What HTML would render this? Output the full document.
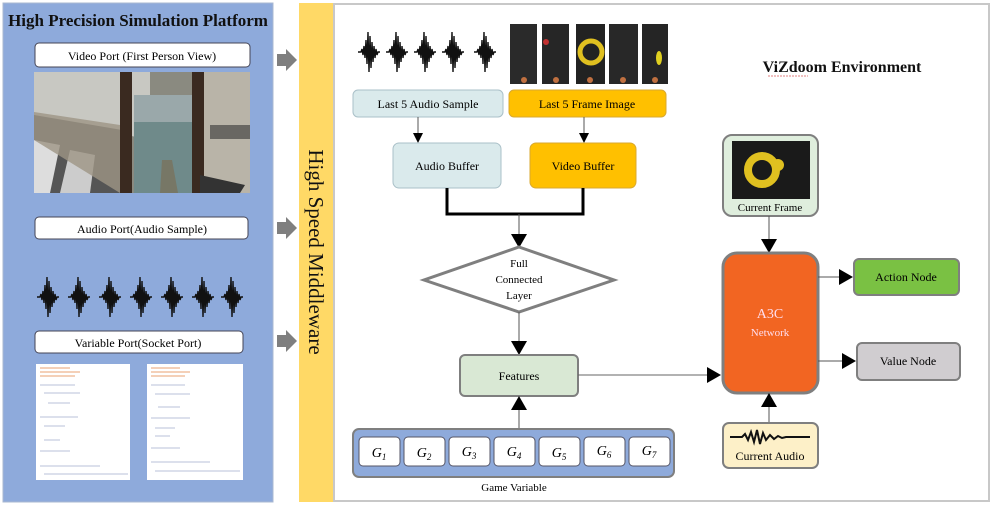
<!DOCTYPE html>
<html><head><meta charset="utf-8"><style>
html,body{margin:0;padding:0;background:#fff;}
svg{display:block;}
text{font-family:"Liberation Serif",serif;}
</style></head><body>
<svg width="992" height="507" viewBox="0 0 992 507" xmlns="http://www.w3.org/2000/svg">
<defs>
<marker id="ah" markerWidth="10" markerHeight="10" refX="9" refY="5" orient="auto" markerUnits="userSpaceOnUse"><path d="M0,0 L10,5 L0,10 Z" fill="#000"/></marker>
<marker id="ahb" markerWidth="14" markerHeight="16" refX="13" refY="8" orient="auto" markerUnits="userSpaceOnUse"><path d="M0,0 L14,8 L0,16 Z" fill="#000"/></marker>
<g id="wave"><path d="M0,0 L3,0 L4,-3 L5,3 L6,-6 L7,6 L8,-12 L9,12 L10,-20 L11,20 L12,-16 L13,16 L14,-10 L15,10 L16,-6 L17,6 L18,-3 L19,3 L20,0 L22,0" fill="none" stroke="#111" stroke-width="1.4"/></g>
</defs>
<!-- left panel -->
<rect x="3" y="3" width="270" height="499" fill="#8eaadb" stroke="#aab8d0"/>
<text x="138" y="26" font-size="17" font-weight="bold" text-anchor="middle" fill="#111">High Precision Simulation Platform</text>
<rect x="35" y="43" width="215" height="24" rx="4" fill="#fff" stroke="#445" stroke-width="1"/>
<text x="142" y="60" font-size="12" text-anchor="middle">Video Port (First Person View)</text>
<!-- game image -->
<g>
<rect x="34" y="72" width="216" height="121" fill="#8a8a80"/>
<polygon points="34,72 150,72 150,140 34,115" fill="#c8c8c2"/>
<polygon points="34,115 122,130 122,193 34,193" fill="#555"/>
<polygon points="34,140 60,145 50,193 34,193" fill="#ddd"/>
<polygon points="70,150 95,155 90,193 60,193" fill="#ccc"/>
<polygon points="34,112 120,125 125,190 120,193 34,140" fill="#9d9584" opacity="0.8"/>
<rect x="134" y="95" width="70" height="30" fill="#9aa8aa"/>
<rect x="134" y="122" width="75" height="71" fill="#6f8a8a"/>
<rect x="204" y="72" width="46" height="121" fill="#b9b4a8"/>
<rect x="210" y="125" width="40" height="14" fill="#333" opacity="0.6"/>
<rect x="120" y="72" width="12" height="121" fill="#3a2a20"/>
<rect x="192" y="72" width="12" height="121" fill="#3a2a20"/>
<polygon points="162,160 172,160 178,193 160,193" fill="#776"/>
<polygon points="200,175 245,185 240,193 200,193" fill="#333"/>
</g>
<rect x="35" y="217" width="213" height="22" rx="4" fill="#fff" stroke="#445"/>
<text x="142" y="233" font-size="12" text-anchor="middle">Audio Port(Audio Sample)</text>
<use href="#wave" x="37" y="297"/><use href="#wave" x="68" y="297"/><use href="#wave" x="99" y="297"/><use href="#wave" x="130" y="297"/><use href="#wave" x="161" y="297"/><use href="#wave" x="192" y="297"/><use href="#wave" x="221" y="297"/>
<rect x="35" y="331" width="208" height="22" rx="4" fill="#fff" stroke="#445"/>
<text x="138" y="347" font-size="12" text-anchor="middle">Variable Port(Socket Port)</text>
<rect x="36" y="364" width="94" height="116" fill="#fff"/>
<rect x="147" y="364" width="96" height="116" fill="#fff"/>
<g stroke="#e8a070" stroke-width="1"><line x1="40" y1="368" x2="70" y2="368"/><line x1="40" y1="372" x2="80" y2="372"/><line x1="40" y1="376" x2="75" y2="376"/><line x1="151" y1="368" x2="180" y2="368"/><line x1="151" y1="372" x2="190" y2="372"/><line x1="151" y1="376" x2="185" y2="376"/></g>
<g stroke="#b8c0d8" stroke-width="1"><line x1="40" y1="385" x2="75" y2="385"/><line x1="44" y1="393" x2="80" y2="393"/><line x1="48" y1="403" x2="70" y2="403"/><line x1="40" y1="417" x2="78" y2="417"/><line x1="44" y1="426" x2="65" y2="426"/><line x1="44" y1="440" x2="60" y2="440"/><line x1="40" y1="451" x2="70" y2="451"/><line x1="40" y1="466" x2="100" y2="466"/><line x1="44" y1="474" x2="128" y2="474"/>
<line x1="151" y1="385" x2="185" y2="385"/><line x1="155" y1="394" x2="190" y2="394"/><line x1="158" y1="407" x2="180" y2="407"/><line x1="151" y1="418" x2="190" y2="418"/><line x1="155" y1="428" x2="175" y2="428"/><line x1="155" y1="436" x2="170" y2="436"/><line x1="151" y1="448" x2="180" y2="448"/><line x1="151" y1="462" x2="210" y2="462"/><line x1="155" y1="471" x2="240" y2="471"/></g>
<!-- gray arrows -->
<g fill="#7f7f7f"><polygon points="277,54 286,54 286,49 297,60 286,71 286,66 277,66"/><polygon points="277,222 286,222 286,217 297,228 286,239 286,234 277,234"/><polygon points="277,335 286,335 286,330 297,341 286,352 286,347 277,347"/></g>
<!-- middleware -->
<rect x="299" y="3" width="35" height="499" fill="#ffd966"/>
<text x="0" y="0" font-size="21" text-anchor="middle" transform="translate(309,252) rotate(90)" fill="#111">High Speed Middleware</text>
<!-- right panel -->
<rect x="334" y="4" width="655" height="497" fill="#fff" stroke="#c8c8c8" stroke-width="2"/>
<text x="842" y="72" font-size="16" font-weight="bold" text-anchor="middle" fill="#111">ViZdoom Environment</text>
<line x1="768" y1="76" x2="808" y2="76" stroke="#e08080" stroke-width="1" stroke-dasharray="2,1"/>
<use href="#wave" x="358" y="52"/><use href="#wave" x="386" y="52"/><use href="#wave" x="414" y="52"/><use href="#wave" x="442" y="52"/><use href="#wave" x="474" y="52"/>
<g><rect x="510" y="24" width="27" height="60" fill="#2a2a2a"/><rect x="542" y="24" width="27" height="60" fill="#262626"/><rect x="576" y="24" width="29" height="60" fill="#222"/><rect x="609" y="24" width="29" height="60" fill="#282828"/><rect x="642" y="24" width="26" height="60" fill="#252525"/>
<circle cx="546" cy="42" r="3" fill="#c03030"/><circle cx="591" cy="52" r="11" fill="none" stroke="#e0c020" stroke-width="5"/><ellipse cx="659" cy="58" rx="3" ry="7" fill="#e0d020"/>
<g fill="#c07040"><circle cx="524" cy="80" r="3"/><circle cx="556" cy="80" r="3"/><circle cx="590" cy="80" r="3"/><circle cx="623" cy="80" r="3"/><circle cx="655" cy="80" r="3"/></g></g>
<rect x="353" y="90" width="150" height="27" rx="5" fill="#daeaec" stroke="#aac0c8"/>
<text x="428" y="108" font-size="12" text-anchor="middle">Last 5 Audio Sample</text>
<rect x="509" y="90" width="157" height="27" rx="5" fill="#ffc000" stroke="#d8a830"/>
<text x="587" y="108" font-size="12" text-anchor="middle">Last 5 Frame Image</text>
<line x1="418" y1="117" x2="418" y2="142" stroke="#555" marker-end="url(#ah)"/>
<line x1="584" y1="117" x2="584" y2="142" stroke="#555" marker-end="url(#ah)"/>
<rect x="393" y="143" width="108" height="45" rx="6" fill="#daeaec" stroke="#aac0c8"/>
<text x="447" y="170" font-size="12" text-anchor="middle">Audio Buffer</text>
<rect x="530" y="143" width="106" height="45" rx="6" fill="#ffc000" stroke="#d8a830"/>
<text x="583" y="170" font-size="12" text-anchor="middle">Video Buffer</text>
<polyline points="447,188 447,214 583,214 583,188" fill="none" stroke="#000" stroke-width="3"/>
<line x1="519" y1="214" x2="519" y2="247" stroke="#555" marker-end="url(#ahb)"/>
<polygon points="519,247 614,280 519,312 424,280" fill="#fff" stroke="#7f7f7f" stroke-width="3"/>
<text x="519" y="267" font-size="11" text-anchor="middle">Full</text>
<text x="519" y="283" font-size="11" text-anchor="middle">Connected</text>
<text x="519" y="299" font-size="11" text-anchor="middle">Layer</text>
<line x1="519" y1="312" x2="519" y2="354" stroke="#555" marker-end="url(#ahb)"/>
<rect x="460" y="355" width="118" height="41" rx="5" fill="#d9e8d4" stroke="#7f7f7f" stroke-width="2"/>
<text x="519" y="380" font-size="12" text-anchor="middle">Features</text>
<line x1="578" y1="375" x2="720" y2="375" stroke="#666" marker-end="url(#ahb)"/>
<line x1="519" y1="429" x2="519" y2="397" stroke="#555" marker-end="url(#ahb)"/>
<rect x="353" y="429" width="321" height="48" rx="6" fill="#8eaadb" stroke="#7f7f7f" stroke-width="2"/>
<g fill="#fff" stroke="#556"><rect x="359" y="437" width="41" height="29" rx="4"/><rect x="404" y="437" width="41" height="29" rx="4"/><rect x="449" y="437" width="41" height="29" rx="4"/><rect x="494" y="437" width="41" height="29" rx="4"/><rect x="539" y="437" width="41" height="29" rx="4"/><rect x="584" y="437" width="41" height="29" rx="4"/><rect x="629" y="437" width="41" height="29" rx="4"/></g>
<g font-size="14" font-style="italic" text-anchor="middle"><text x="379" y="457">G<tspan font-size="9" dy="3">1</tspan></text><text x="424" y="457">G<tspan font-size="9" dy="3">2</tspan></text><text x="469" y="456">G<tspan font-size="9" dy="3">3</tspan></text><text x="514" y="456">G<tspan font-size="9" dy="3">4</tspan></text><text x="559" y="457">G<tspan font-size="9" dy="3">5</tspan></text><text x="604" y="455">G<tspan font-size="9" dy="3">6</tspan></text><text x="649" y="455">G<tspan font-size="9" dy="3">7</tspan></text></g>
<text x="514" y="491" font-size="11" text-anchor="middle">Game Variable</text>
<!-- right column -->
<rect x="723" y="135" width="95" height="81" rx="9" fill="#dfeedd" stroke="#7f7f7f" stroke-width="2"/>
<rect x="732" y="141" width="78" height="58" fill="#1a1a1a"/>
<circle cx="762" cy="170" r="14" fill="none" stroke="#e0c020" stroke-width="8"/>
<circle cx="778" cy="165" r="6" fill="#e0c020"/>
<text x="770" y="211" font-size="11" text-anchor="middle">Current Frame</text>
<line x1="769" y1="216" x2="769" y2="252" stroke="#555" marker-end="url(#ahb)"/>
<rect x="723" y="253" width="95" height="140" rx="14" fill="#f26522" stroke="#7f7f7f" stroke-width="3"/>
<text x="770" y="318" font-size="14" text-anchor="middle" fill="#fde">A3C</text>
<text x="770" y="336" font-size="11" text-anchor="middle" fill="#fde">Network</text>
<line x1="818" y1="277" x2="852" y2="277" stroke="#555" marker-end="url(#ahb)"/>
<line x1="818" y1="361" x2="855" y2="361" stroke="#555" marker-end="url(#ahb)"/>
<rect x="854" y="259" width="105" height="36" rx="5" fill="#7ac143" stroke="#7f7f7f" stroke-width="2"/>
<text x="906" y="281" font-size="12" text-anchor="middle">Action Node</text>
<rect x="857" y="343" width="103" height="37" rx="5" fill="#d0cdd0" stroke="#7f7f7f" stroke-width="2"/>
<text x="908" y="365" font-size="12" text-anchor="middle">Value Node</text>
<line x1="769" y1="423" x2="769" y2="394" stroke="#555" marker-end="url(#ahb)"/>
<rect x="723" y="423" width="95" height="45" rx="6" fill="#fdf0c8" stroke="#7f7f7f" stroke-width="2"/>
<path d="M730,437 L742,437 L745,434 L748,440 L751,432 L754,442 L757,430 L760,444 L763,433 L766,440 L770,435 L774,439 L778,436 L782,438 L786,437 L810,437" fill="none" stroke="#111" stroke-width="2"/>
<text x="770" y="460" font-size="12" text-anchor="middle">Current Audio</text>
</svg>
</body></html>
